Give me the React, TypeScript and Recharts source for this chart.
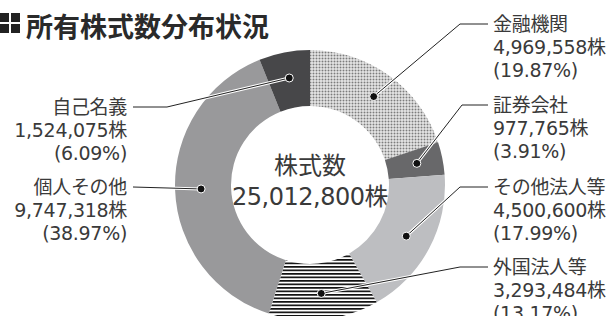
import React from 'react';
import { PieChart, Pie, Cell } from 'recharts';

const categories = ['金融機関', '証券会社', 'その他法人等', '外国法人等', '個人その他', '自己名義'];
const shares = [4969558, 977765, 4500600, 3293484, 9747318, 1524075];
const percents = ['19.87', '3.91', '17.99', '13.17', '38.97', '6.09'];
const totalShares = 25012800;

const fills = ['url(#dots)', '#68686a', '#bdbec1', 'url(#stripes)', '#99999b', '#474749'];

// where each label sits (first line centre y, bend of the leader line)
const labelLayout = [
    { side: 'right', y: 24, bendX: 460 },
    { side: 'right', y: 105, bendX: 462 },
    { side: 'right', y: 187, bendX: 460 },
    { side: 'right', y: 267, bendX: 460 },
    { side: 'left', y: 187, bendX: 0 },
    { side: 'left', y: 107, bendX: 167 },
];

const data = categories.map((name, i) => ({ name, value: shares[i], pct: percents[i] }));

const FONT = '"DejaVu Sans", "Noto Sans CJK JP", sans-serif';
const TITLE_FONT = '"Noto Sans CJK JP", sans-serif';
const TEXT = '#3a3a3a';
const RAD = Math.PI / 180;

const fmt = (n: number) => n.toLocaleString('en-US');

function renderLabel(props: any) {
    const { cx, cy, midAngle, innerRadius, outerRadius, index } = props;
    const r = (innerRadius + outerRadius) / 2 + 2;
    const dx = cx + r * Math.cos(-midAngle * RAD);
    const dy = cy + r * Math.sin(-midAngle * RAD);
    const lay = labelLayout[index];
    const d = data[index];
    let path = '';
    let tx = 0;
    let anchor: 'start' | 'end' = 'start';
    if (lay.side === 'right') {
        path = `M${dx},${dy}L${lay.bendX},${lay.y}L488,${lay.y}`;
        tx = 493;
    } else {
        path = lay.bendX
            ? `M${dx},${dy}L${lay.bendX},${lay.y}L133,${lay.y}`
            : `M${dx},${dy}L133,${lay.y}`;
        tx = 127;
        anchor = 'end';
    }
    const lines = [d.name, fmt(d.value) + '株', '(' + d.pct + '%)'];
    return (
        <g key={'lbl' + index}>
            <path d={path} stroke="#fff" strokeWidth={3} fill="none" />
            <path d={path} stroke="#222" strokeWidth={1} fill="none" />
            <circle cx={dx} cy={dy} r={4} fill="#111" stroke="#fff" strokeWidth={1} />
            {lines.map((t, k) => (
                <text key={k} x={tx} y={lay.y + k * 23} textAnchor={anchor} dominantBaseline="central"
                    fontSize={19} letterSpacing={-0.3} fill={TEXT} fontFamily={FONT}>{t}</text>
            ))}
        </g>
    );
}

export default function App() {
    return <div style={{ position: 'absolute', left: 0, top: 0, width: 609, height: 316, background: '#fff' }}>
        <PieChart width={609} height={316} margin={{ top: 0, right: 0, bottom: 0, left: 0 }}>
            <defs>
                <pattern id="dots" width={3} height={3} patternUnits="userSpaceOnUse">
                    <rect width={3} height={3} fill="#fff" />
                    <rect x={0.5} y={0.5} width={2} height={2} fill="#7c7c7c" />
                </pattern>
                <pattern id="stripes" width={4} height={3.5} patternUnits="userSpaceOnUse">
                    <rect width={4} height={3.5} fill="#fff" />
                    <rect y={0} width={4} height={1.7} fill="#111" />
                </pattern>
            </defs>
            <Pie data={data} dataKey="value" nameKey="name" cx={310} cy={185}
                innerRadius={79} outerRadius={135} startAngle={90} endAngle={-270}
                stroke="none" label={renderLabel} labelLine={false} isAnimationActive={false}>
                {data.map((d, i) => <Cell key={d.name} fill={fills[i]} />)}
            </Pie>
            <text x={310} y={166} textAnchor="middle" dominantBaseline="central" fontSize={24} fill={TEXT} fontFamily={FONT}>株式数</text>
            <text x={310} y={197} textAnchor="middle" dominantBaseline="central" fontSize={24} letterSpacing={-0.5} fill={TEXT} fontFamily={FONT}>{fmt(totalShares)}株</text>
            <g>
                <rect x={0} y={13} width={9} height={9} fill="#222" />
                <rect x={11} y={13} width={9} height={9} fill="#222" />
                <rect x={0} y={24} width={9} height={9} fill="#222" />
                <rect x={11} y={24} width={9} height={9} fill="#222" />
            </g>
            <text x={26} y={25} dominantBaseline="central" fontSize={27} fontWeight={700} fill="#2a2a2a" fontFamily={TITLE_FONT}>所有株式数分布状況</text>
        </PieChart>
    </div>;
}
